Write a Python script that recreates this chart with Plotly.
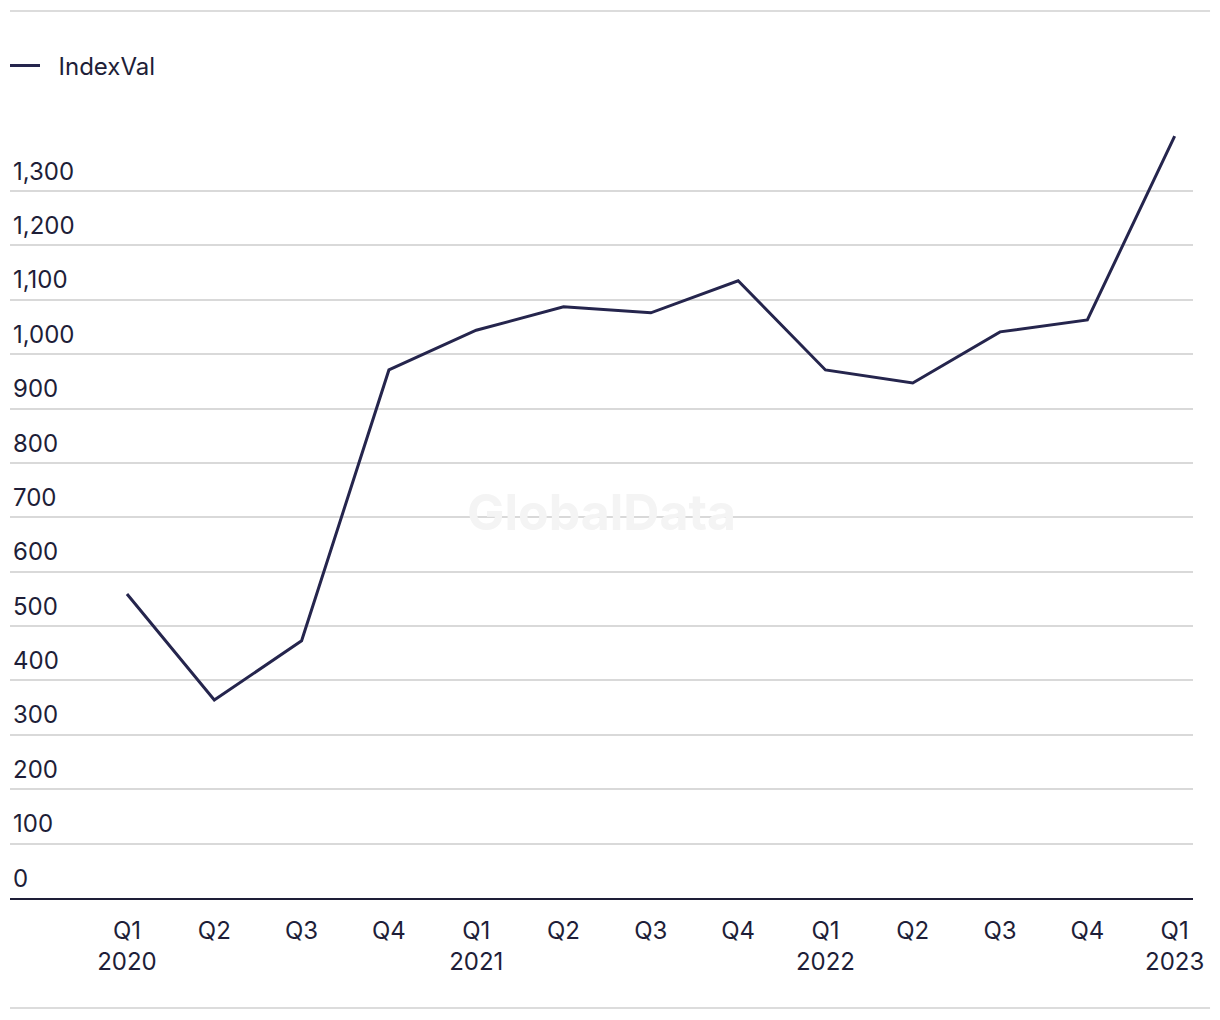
import plotly.graph_objects as go

quarters = ["Q1<br>2020", "Q2", "Q3", "Q4", "Q1<br>2021", "Q2", "Q3", "Q4",
            "Q1<br>2022", "Q2", "Q3", "Q4", "Q1<br>2023"]
index_val = [559, 364, 473, 971, 1044, 1087, 1076, 1135, 971, 947, 1041, 1063, 1401]
y_ticks = list(range(0, 1301, 100))
y_tick_labels = [f"{v:,}" for v in y_ticks]

x_pos = list(range(len(quarters)))

FONT = "Inter, 'Liberation Sans', Arial, sans-serif"
TEXT = "#1e1e38"
LINE = "#25254d"

# page body has an 8px margin; figure is laid out in its own coordinates
W, H = 1204, 1004
L, R, T, B = 2, 19, 102, 114
PH = H - T - B  # plot height in px
PW = W - L - R


def py(page_y):
    """paper y from a page pixel row"""
    return ((H - B) - (page_y - 8)) / PH


fig = go.Figure()
fig.add_trace(go.Scatter(
    x=x_pos, y=index_val, mode="lines", name="\u00a0\u00a0IndexVal",
    line=dict(color=LINE, width=3),
))

fig.update_layout(
    width=W, height=H,
    margin=dict(l=L, r=R, t=T, b=B, autoexpand=False),
    paper_bgcolor="white", plot_bgcolor="white",
    font=dict(family=FONT, size=24, color=TEXT),
    showlegend=True,
    legend=dict(x=-5 / PW, y=py(66), xanchor="left", yanchor="middle",
                orientation="h", font=dict(size=24, color=TEXT),
                itemwidth=30, bgcolor="rgba(0,0,0,0)"),
    xaxis=dict(
        tickmode="array", tickvals=x_pos, ticktext=quarters,
        range=[-1.34, 12.21], showgrid=False, zeroline=False,
        showline=True, linecolor=TEXT, linewidth=2,
        ticks="", ticklen=0, tickfont=dict(size=24, color=TEXT),
        ticklabelstandoff=10,
        fixedrange=True,
    ),
    yaxis=dict(
        tickmode="array", tickvals=y_ticks, ticktext=y_tick_labels,
        range=[0, 1449], showgrid=True, gridcolor="#d9d9d9", gridwidth=2,
        zeroline=False, showline=False, ticks="",
        ticklabelposition="inside top", ticklabelshift=-3,
        tickfont=dict(size=24, color=TEXT),
        fixedrange=True,
    ),
    shapes=[
        dict(type="line", xref="paper", yref="paper", x0=0, x1=1.0144,
             y0=py(11), y1=py(11), line=dict(color="#dcdcdc", width=2)),
        dict(type="line", xref="paper", yref="paper", x0=0, x1=1.0144,
             y0=py(1008), y1=py(1008), line=dict(color="#dcdcdc", width=2)),
    ],
    annotations=[
        dict(text="<b>GlobalData</b>", x=0.5, y=py(512),
             xref="paper", yref="paper", showarrow=False,
             font=dict(size=50, color="#f4f4f4", family=FONT)),
    ],
)

fig.write_html("out.html")
